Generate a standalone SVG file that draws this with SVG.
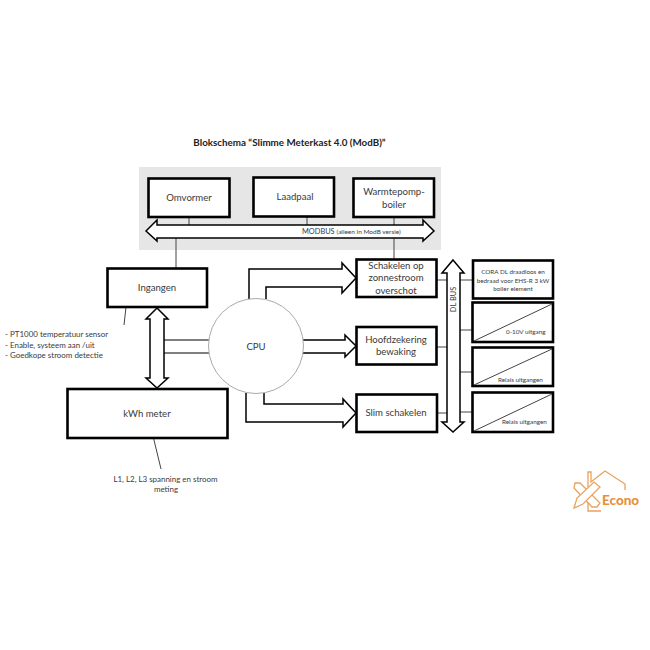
<svg xmlns="http://www.w3.org/2000/svg" width="650" height="650" viewBox="0 0 650 650">
<style>
text{font-family:"Lato","Carlito","Liberation Sans",sans-serif;fill:#3a3a3a;font-size:9.600px}
.m{text-anchor:middle}
.box{fill:#fff;stroke:#000;stroke-width:2.6}
.big{fill:#fff;stroke:#000;stroke-width:1.5;stroke-linejoin:miter}
.ln{fill:none;stroke:#444;stroke-width:1}
.s{font-size:6.300px}
.n{font-size:7.950px}
.lg{fill:none;stroke:#e9a35f;stroke-width:1.300}
</style>
<rect width="650" height="650" fill="#fff"/>
<rect id="bus-area" x="139" y="167" width="302" height="83" fill="#e6e6e6"/>
<text x="289.500" y="146" class="m" style="font-weight:700;font-size:9.800px;fill:#222">Blokschema “Slimme Meterkast 4.0 (ModB)”</text>
<g id="connectors">
<path class="ln" d="M189 217V225M307 217V225M394 217V225M176 238V268M394 238V259M126 307L124 325M153.500 438L161 469"/>
<path class="ln" d="M436 280H447M460 280H473M460 330H472M460 372H472M460 412H472M436 347H447M437 413H447"/>
<path class="big" d="M146 231L157 220V225H423V220L434 231L423 241V238H157V241Z"/>
<path class="big" d="M157 308L168 319H164V378H168L157 388L146 378H150V319H146Z"/>
<path class="big" d="M453 260L464 273H460V422H464L453 432L442 422H447V273H442Z"/>
<path d="M164 340H209M164 353H209" fill="none" stroke="#000" stroke-width="1.200"/>
<path class="big" d="M249 299V269H342V263L356 278L342 293V287H266V299"/>
<path class="big" d="M303 340H345V335L356 346L345 357V353H303"/>
<path class="big" d="M264 393V404H343V399L356 413L343 427V422H246V393"/>
</g>
<g id="omvormer"><rect class="box" x="148.500" y="178.500" width="81" height="38.500"/><text x="189" y="201" class="m">Omvormer</text></g>
<g id="laadpaal"><rect class="box" x="253.500" y="177.500" width="80.500" height="39"/><text x="295" y="200" class="m">Laadpaal</text></g>
<g id="warmtepomp"><rect class="box" x="353.500" y="178.500" width="80.500" height="38.500"/><text x="394" y="195" class="m">Warmtepomp-</text><text x="394" y="208" class="m">boiler</text></g>
<g id="ingangen"><rect class="box" x="107.500" y="268.500" width="99.500" height="38.500"/><text x="157" y="291" class="m">Ingangen</text></g>
<g id="kwh"><rect class="box" x="67.500" y="389" width="160" height="49"/><text x="147" y="417" class="m">kWh meter</text></g>
<g id="cpu"><circle cx="256" cy="346" r="47.500" fill="#fff" stroke="#aaa" stroke-width="1"/><text x="256" y="350" class="m">CPU</text></g>
<g id="schakelen"><rect class="box" x="356.500" y="259.500" width="80" height="37.500"/><text x="396" y="269" class="m">Schakelen op</text><text x="396" y="281" class="m">zonnestroom</text><text x="396" y="294" class="m">overschot</text></g>
<g id="hoofdzekering"><rect class="box" x="356.500" y="327" width="80" height="37.500"/><text x="396" y="343" class="m">Hoofdzekering</text><text x="396" y="355" class="m">bewaking</text></g>
<g id="slim"><rect class="box" x="356.500" y="394.500" width="80.500" height="37.500"/><text x="396" y="416" class="m">Slim schakelen</text></g>
<g id="cora"><rect class="box" x="473" y="260.500" width="80" height="38"/><text x="513" y="274" class="m s">CORA DL draadloos en</text><text x="513" y="282.500" class="m s">bedraad voor EHS-R 3 kW</text><text x="513" y="291" class="m s">boiler element</text></g>
<g id="uitgang-0-10v"><rect class="box" x="472.500" y="302.500" width="80.500" height="39.500"/><path class="ln" d="M474 341L552 304"/><text x="506" y="334" class="s">0-10V uitgang</text></g>
<g id="relais-1"><rect class="box" x="472.500" y="347.500" width="80.500" height="38.500"/><path class="ln" d="M474 385L552 349"/><text x="498" y="382" class="s">Relais uitgangen</text></g>
<g id="relais-2"><rect class="box" x="472.500" y="392.500" width="80.500" height="39.500"/><path class="ln" d="M474 431L552 394"/><text x="502" y="424" class="s">Relais uitgangen</text></g>
<text x="302" y="234" style="font-size:7.400px">MODBUS <tspan style="font-size:6.500px">(alleen in ModB versie)</tspan></text>
<text transform="translate(456 299.500) rotate(-90)" class="m" style="font-size:7.400px">DL BUS</text>
<g id="sensor-notes"><text x="5" y="337" class="n">- PT1000 temperatuur sensor</text><text x="5" y="347.500" class="n">- Enable, systeem aan /uit</text><text x="5" y="358" class="n">- Goedkope stroom detectie</text></g>
<g id="meter-notes"><text x="165.500" y="482" class="m n">L1, L2, L3 spanning en stroom</text><text x="166" y="492" class="m n">meting</text></g>
<g id="logo">
<path class="lg" d="M588 487V472H591V482L605 471L625 484V490M588 497V511H601"/>
<path d="M575 483L580 483L600 503L597 507L592 507L574 488Z" fill="#fff" stroke="#e9a35f" stroke-width="1.300"/>
<path d="M574 508L577 498L594 482L600 487L583 504Z" fill="#fff" stroke="#e9a35f" stroke-width="1.300"/>
<text x="602" y="505" style="font-size:13.500px;font-weight:900;fill:#e8913c">Econo</text>
</g>
</svg>
